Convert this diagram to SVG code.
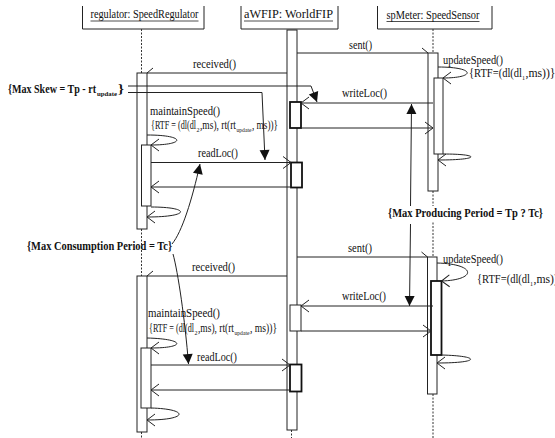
<svg xmlns="http://www.w3.org/2000/svg" width="555" height="438" viewBox="0 0 555 438">
<style>
  text { font-family: "Liberation Serif", "DejaVu Serif", "Times New Roman", serif; font-size: 12px; fill: #111; }
  .b { font-weight: bold; }
  .sub { font-size: 7px; }
  .hdr { fill: none; stroke: #222; stroke-width: 1; }
  .ul { stroke: #222; stroke-width: 0.8; }
  .life { stroke: #333; stroke-width: 1; stroke-dasharray: 2 1.5; fill: none; }
  .bar { fill: #fff; stroke: #222; stroke-width: 1; }
  .thick { fill: #fff; stroke: #111; stroke-width: 1.8; }
  .msg { fill: none; stroke: #222; stroke-width: 1; }
  .m-open { marker-end: url(#open); }
  .m-hu { marker-end: url(#halfUpR); }
  .m-hl { marker-end: url(#halfUpL); }
  .m-tri { marker-end: url(#tri); }
</style>
<defs>
  <marker id="open" markerUnits="userSpaceOnUse" markerWidth="12" markerHeight="14" refX="8" refY="6" orient="auto" overflow="visible">
    <path d="M0,0 L8,6 L0,12" fill="none" stroke="#222" stroke-width="1"/>
  </marker>
  <marker id="halfUpR" markerUnits="userSpaceOnUse" markerWidth="10" markerHeight="10" refX="7" refY="5" orient="auto" overflow="visible">
    <path d="M7,5 L1,0" fill="none" stroke="#222" stroke-width="1"/>
  </marker>
  <marker id="halfUpL" markerUnits="userSpaceOnUse" markerWidth="10" markerHeight="10" refX="7" refY="5" orient="auto" overflow="visible">
    <path d="M7,5 L1,10" fill="none" stroke="#222" stroke-width="1"/>
  </marker>
  <marker id="tri" markerUnits="userSpaceOnUse" markerWidth="12" markerHeight="12" refX="10" refY="5" orient="auto" overflow="visible">
    <path d="M0,0 L10,5 L0,10 Z" fill="#111" stroke="none"/>
  </marker>
</defs>
<rect width="555" height="438" fill="#fff"/>

<g id="regulator">
  <path class="hdr" d="M82.5,6 V29 H204 V6"/>
  <text x="90.5" y="18" textLength="108" lengthAdjust="spacingAndGlyphs">regulator: SpeedRegulator</text>
  <line class="ul" x1="90.5" y1="21" x2="198.5" y2="21"/>
  <line class="life" x1="141.5" y1="29" x2="141.5" y2="73"/>
  <line class="life" x1="141.5" y1="229" x2="141.5" y2="276"/>
  <line class="life" x1="141.5" y1="432" x2="141.5" y2="438"/>
  <rect class="bar" x="137" y="73" width="10" height="156"/>
  <rect class="bar" x="141.5" y="145" width="9.5" height="61"/>
  <rect class="bar" x="137" y="276" width="10" height="156"/>
  <rect class="bar" x="141" y="348" width="10" height="60"/>
</g>

<g id="aWFIP">
  <path class="hdr" d="M241,6 V29 H338 V6"/>
  <text x="244" y="18" textLength="89" lengthAdjust="spacingAndGlyphs">aWFIP: WorldFIP</text>
  <line class="ul" x1="244" y1="21" x2="333" y2="21"/>
  <line class="life" x1="291.5" y1="430" x2="291.5" y2="438"/>
  <rect class="bar" x="287" y="30" width="10" height="400"/>
  <rect class="thick" x="290" y="102" width="11" height="26"/>
  <rect class="thick" x="291" y="162.5" width="11" height="25"/>
  <rect class="bar" x="290" y="305" width="11" height="26"/>
  <rect class="thick" x="290" y="364.5" width="11.5" height="27"/>
</g>

<g id="spMeter">
  <path class="hdr" d="M377.5,6 V29 H492 V6"/>
  <text x="386.5" y="18.5" textLength="93" lengthAdjust="spacingAndGlyphs">spMeter: SpeedSensor</text>
  <line class="ul" x1="386.5" y1="21.5" x2="479.5" y2="21.5"/>
  <line class="life" x1="433" y1="29" x2="433" y2="53"/>
  <line class="life" x1="433" y1="191" x2="433" y2="257"/>
  <line class="life" x1="433" y1="394" x2="433" y2="438"/>
  <rect class="bar" x="428" y="53" width="10" height="138"/>
  <rect class="bar" x="434" y="78" width="9" height="76"/>
  <rect class="bar" x="427.5" y="257" width="9.5" height="137"/>
  <rect class="thick" x="431" y="281" width="10.5" height="74"/>
</g>

<g id="connectors">
  <path class="msg m-hu" d="M297,53 H428"/>
  <path class="msg m-hl" d="M287,73 H147"/>
  <path class="msg m-open" d="M438,67 C476,67 476,78 443,78"/>
  <path class="msg m-open" d="M433,103 H301"/>
  <path class="msg m-open" d="M301,128 H433"/>
  <path class="msg m-open" d="M443,154 C481,154 481,160 438,160"/>
  <path class="msg m-open" d="M147,135 C186,135 186,145 151,145"/>
  <path class="msg m-open" d="M151,162.5 H291"/>
  <path class="msg m-open" d="M291,187 H151"/>
  <path class="msg m-open" d="M151,207 C191,207 191,217 147,217"/>
  <path class="msg m-hu" d="M297,257 H427.5"/>
  <path class="msg m-hl" d="M287,276 H147"/>
  <path class="msg m-open" d="M437,263 C477,264 477,280 441.5,281"/>
  <path class="msg m-open" d="M433,306 H301"/>
  <path class="msg m-open" d="M301,331 H431"/>
  <path class="msg m-open" d="M441.5,355 C481,356 481,363 437,363"/>
  <path class="msg m-open" d="M147,338 C186,339 186,348 151,348"/>
  <path class="msg m-open" d="M151,365 H290"/>
  <path class="msg m-open" d="M290,390 H151"/>
  <path class="msg m-open" d="M151,408 C189,409 189,420 147,420"/>
  <path class="msg m-tri" d="M128,86 H311 L317,102"/>
  <path class="msg m-tri" d="M128,92.5 H262 L265,160"/>
  <path class="msg m-tri" d="M410.5,206 L411.5,104"/>
  <path class="msg m-tri" d="M410.5,224 L409.5,306"/>
  <path class="msg m-tri" d="M172,244 C182,232 192,200 200,164"/>
  <path class="msg m-tri" d="M173,254 C178,272 185,320 188.5,364"/>
</g>

<g id="labels">
  <text x="193" y="68" textLength="43" lengthAdjust="spacingAndGlyphs">received()</text>
  <text x="349" y="49" textLength="23" lengthAdjust="spacingAndGlyphs">sent()</text>
  <text x="443" y="64" textLength="60" lengthAdjust="spacingAndGlyphs">updateSpeed()</text>
  <text x="469" y="77" textLength="53" lengthAdjust="spacingAndGlyphs">{RTF=(dl(dl</text>
  <text class="sub" x="522" y="79.5" textLength="3" lengthAdjust="spacingAndGlyphs">1</text>
  <text x="525.5" y="77" textLength="30" lengthAdjust="spacingAndGlyphs">,ms))}</text>
  <text x="342" y="97" textLength="45" lengthAdjust="spacingAndGlyphs">writeLoc()</text>
  <text x="150" y="115" textLength="70" lengthAdjust="spacingAndGlyphs">maintainSpeed()</text>
  <text x="151" y="129" textLength="45" lengthAdjust="spacingAndGlyphs">{RTF = (dl(dl</text>
  <text class="sub" x="196.5" y="131.5" textLength="3" lengthAdjust="spacingAndGlyphs">2</text>
  <text x="200" y="129" textLength="36" lengthAdjust="spacingAndGlyphs">,ms), rt(rt</text>
  <text class="sub" x="236.5" y="131.5" textLength="15" lengthAdjust="spacingAndGlyphs">update</text>
  <text x="252" y="129" textLength="26" lengthAdjust="spacingAndGlyphs">, ms))}</text>
  <text x="198" y="157" textLength="40" lengthAdjust="spacingAndGlyphs">readLoc()</text>

  <text x="348" y="252" textLength="24" lengthAdjust="spacingAndGlyphs">sent()</text>
  <text x="192" y="271" textLength="43" lengthAdjust="spacingAndGlyphs">received()</text>
  <text x="443" y="263" textLength="60" lengthAdjust="spacingAndGlyphs">updateSpeed()</text>
  <text x="477" y="283" textLength="53" lengthAdjust="spacingAndGlyphs">{RTF=(dl(dl</text>
  <text class="sub" x="530" y="285.5" textLength="3" lengthAdjust="spacingAndGlyphs">1</text>
  <text x="533.5" y="283" textLength="30" lengthAdjust="spacingAndGlyphs">,ms))}</text>
  <text x="342" y="300" textLength="44" lengthAdjust="spacingAndGlyphs">writeLoc()</text>
  <text x="148" y="317" textLength="72" lengthAdjust="spacingAndGlyphs">maintainSpeed()</text>
  <text x="149" y="332" textLength="45" lengthAdjust="spacingAndGlyphs">{RTF = (dl(dl</text>
  <text class="sub" x="194.5" y="334.5" textLength="3" lengthAdjust="spacingAndGlyphs">2</text>
  <text x="198" y="332" textLength="36" lengthAdjust="spacingAndGlyphs">,ms), rt(rt</text>
  <text class="sub" x="234.5" y="334.5" textLength="15" lengthAdjust="spacingAndGlyphs">update</text>
  <text x="250" y="332" textLength="27" lengthAdjust="spacingAndGlyphs">, ms))}</text>
  <text x="197" y="361" textLength="40" lengthAdjust="spacingAndGlyphs">readLoc()</text>

  <text class="b" x="8" y="93" textLength="88" lengthAdjust="spacingAndGlyphs">{Max Skew = Tp - rt</text>
  <text class="b sub" x="97" y="95.5" textLength="20" lengthAdjust="spacingAndGlyphs">update</text>
  <text class="b" x="118" y="93" textLength="6" lengthAdjust="spacingAndGlyphs">}</text>
  <text class="b" x="27" y="250" textLength="145" lengthAdjust="spacingAndGlyphs">{Max Consumption Period = Tc}</text>
  <rect x="386" y="206" width="160" height="16" fill="#fff"/>
  <text class="b" x="388" y="217" textLength="155" lengthAdjust="spacingAndGlyphs">{Max Producing Period = Tp ? Tc}</text>
</g>
</svg>
